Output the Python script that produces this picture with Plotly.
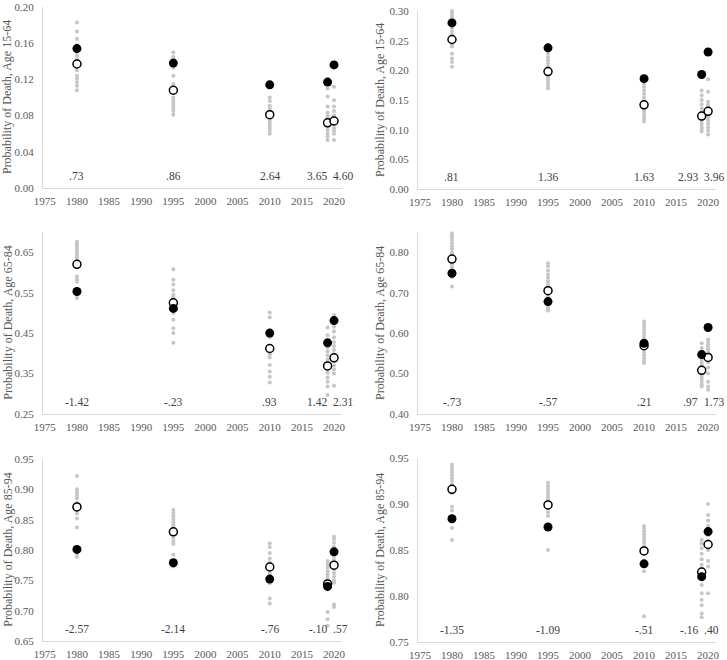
import plotly.graph_objects as go

years = [1980, 1995, 2010, 2019, 2020]

# top-left panel, age 15-64
p1_us = [0.154, 0.138, 0.114, 0.117, 0.136]
p1_avg = [0.137, 0.108, 0.081, 0.072, 0.074]
p1_peers = [
    [0.183, 0.173, 0.165, 0.158, 0.150, 0.146, 0.142, 0.138, 0.134, 0.130, 0.124, 0.121, 0.117, 0.113, 0.108],
    [0.150, 0.145, 0.140, 0.133, 0.124, 0.115, 0.110, 0.105, 0.100, 0.097, 0.094, 0.091, 0.088, 0.085, 0.081],
    [0.100, 0.096, 0.091, 0.088, 0.085, 0.083, 0.078, 0.075, 0.072, 0.069, 0.066, 0.063, 0.060],
    [0.110, 0.101, 0.090, 0.083, 0.080, 0.078, 0.075, 0.070, 0.068, 0.064, 0.060, 0.057, 0.053],
    [0.112, 0.097, 0.090, 0.085, 0.080, 0.078, 0.075, 0.070, 0.066, 0.063, 0.060, 0.053],
]
p1_labels = [".73", ".86", "2.64", "3.65", "4.60"]

# top-right panel, age 15-64
p2_us = [0.280, 0.238, 0.186, 0.193, 0.231]
p2_avg = [0.252, 0.198, 0.142, 0.123, 0.131]
p2_peers = [
    [0.300, 0.297, 0.292, 0.288, 0.283, 0.277, 0.272, 0.266, 0.260, 0.255, 0.250, 0.245, 0.240, 0.228, 0.220, 0.214, 0.206],
    [0.228, 0.222, 0.217, 0.212, 0.206, 0.200, 0.195, 0.190, 0.186, 0.182, 0.178, 0.174, 0.170],
    [0.178, 0.172, 0.166, 0.160, 0.154, 0.148, 0.142, 0.137, 0.132, 0.127, 0.122, 0.118, 0.114],
    [0.166, 0.158, 0.150, 0.143, 0.136, 0.130, 0.126, 0.120, 0.115, 0.110, 0.105, 0.101, 0.097],
    [0.185, 0.164, 0.147, 0.142, 0.137, 0.131, 0.126, 0.121, 0.116, 0.110, 0.104, 0.098, 0.092],
]
p2_labels = [".81", "1.36", "1.63", "2.93", "3.96"]

# middle-left panel, age 65-84
p3_us = [0.553, 0.511, 0.450, 0.426, 0.481]
p3_avg = [0.620, 0.525, 0.412, 0.369, 0.389]
p3_peers = [
    [0.676, 0.672, 0.667, 0.663, 0.658, 0.653, 0.648, 0.643, 0.638, 0.633, 0.590, 0.583, 0.577, 0.545, 0.537],
    [0.608, 0.582, 0.570, 0.556, 0.545, 0.540, 0.535, 0.520, 0.500, 0.483, 0.462, 0.450, 0.426],
    [0.501, 0.489, 0.440, 0.405, 0.398, 0.390, 0.371, 0.355, 0.342, 0.328],
    [0.464, 0.445, 0.415, 0.405, 0.395, 0.385, 0.378, 0.360, 0.352, 0.340, 0.330, 0.318, 0.297],
    [0.495, 0.466, 0.454, 0.440, 0.428, 0.418, 0.408, 0.398, 0.380, 0.370, 0.360, 0.350, 0.320],
]
p3_labels = ["-1.42", "-.23", ".93", "1.42", "2.31"]

# middle-right panel, age 65-84
p4_us = [0.748, 0.678, 0.575, 0.547, 0.614]
p4_avg = [0.783, 0.705, 0.569, 0.508, 0.540]
p4_peers = [
    [0.847, 0.842, 0.837, 0.830, 0.822, 0.815, 0.808, 0.800, 0.793, 0.770, 0.762, 0.755, 0.738, 0.715],
    [0.773, 0.765, 0.755, 0.745, 0.737, 0.728, 0.720, 0.712, 0.695, 0.688, 0.670, 0.665, 0.660, 0.656],
    [0.629, 0.622, 0.615, 0.608, 0.600, 0.593, 0.585, 0.560, 0.553, 0.545, 0.538, 0.530, 0.526],
    [0.575, 0.563, 0.535, 0.527, 0.520, 0.500, 0.493, 0.487, 0.480, 0.473, 0.468],
    [0.584, 0.578, 0.572, 0.566, 0.560, 0.553, 0.546, 0.528, 0.515, 0.500, 0.480, 0.468, 0.460],
]
p4_labels = ["-.73", "-.57", ".21", ".97", "1.73"]

# bottom-left panel, age 85-94
p5_us = [0.801, 0.779, 0.752, 0.740, 0.797]
p5_avg = [0.871, 0.830, 0.772, 0.744, 0.775]
p5_peers = [
    [0.922, 0.900, 0.895, 0.890, 0.885, 0.878, 0.866, 0.860, 0.852, 0.837, 0.794, 0.789],
    [0.866, 0.861, 0.856, 0.851, 0.846, 0.841, 0.836, 0.825, 0.820, 0.815, 0.810, 0.792, 0.773],
    [0.811, 0.805, 0.795, 0.786, 0.780, 0.762, 0.745, 0.720, 0.712],
    [0.782, 0.777, 0.771, 0.765, 0.760, 0.755, 0.750, 0.735, 0.698, 0.686, 0.675],
    [0.822, 0.818, 0.812, 0.805, 0.790, 0.784, 0.768, 0.762, 0.756, 0.750, 0.746, 0.710, 0.706],
]
p5_labels = ["-2.57", "-2.14", "-.76", "-.10", ".57"]

# bottom-right panel, age 85-94
p6_us = [0.884, 0.875, 0.835, 0.821, 0.870]
p6_avg = [0.916, 0.899, 0.849, 0.826, 0.856]
p6_peers = [
    [0.943, 0.940, 0.937, 0.934, 0.931, 0.928, 0.925, 0.921, 0.912, 0.897, 0.893, 0.874, 0.861],
    [0.923, 0.920, 0.917, 0.914, 0.911, 0.908, 0.905, 0.902, 0.895, 0.891, 0.887, 0.850],
    [0.876, 0.873, 0.870, 0.867, 0.864, 0.861, 0.858, 0.854, 0.827, 0.778],
    [0.861, 0.857, 0.852, 0.846, 0.840, 0.834, 0.830, 0.812, 0.803, 0.796, 0.790, 0.781, 0.777],
    [0.900, 0.888, 0.882, 0.876, 0.866, 0.860, 0.850, 0.838, 0.832, 0.803],
]
p6_labels = ["-1.35", "-1.09", "-.51", "-.16", ".40"]

FONT = "Liberation Serif"
TICK_COLOR = "#595959"
AXIS_COLOR = "#D9D9D9"

panels = [
    dict(us=p1_us, avg=p1_avg, peers=p1_peers, labels=p1_labels, title="Probability of Death, Age 15-64",
         yrange=[0, 0.20], tick0=0, dtick=0.04, xdom=[0.059, 0.4705], ydom=[0.7152, 0.9894], tx=0.0105),
    dict(us=p2_us, avg=p2_avg, peers=p2_peers, labels=p2_labels, title="Probability of Death, Age 15-64",
         yrange=[0, 0.30], tick0=0, dtick=0.05, xdom=[0.575, 0.985], ydom=[0.7136, 0.9833], tx=0.5227),
    dict(us=p3_us, avg=p3_avg, peers=p3_peers, labels=p3_labels, title="Probability of Death, Age 65-84",
         yrange=[0.25, 0.70], tick0=0.25, dtick=0.1, xdom=[0.059, 0.4705], ydom=[0.3727, 0.6485], tx=0.0105),
    dict(us=p4_us, avg=p4_avg, peers=p4_peers, labels=p4_labels, title="Probability of Death, Age 65-84",
         yrange=[0.40, 0.85], tick0=0.40, dtick=0.1, xdom=[0.575, 0.985], ydom=[0.3727, 0.6485], tx=0.5227),
    dict(us=p5_us, avg=p5_avg, peers=p5_peers, labels=p5_labels, title="Probability of Death, Age 85-94",
         yrange=[0.65, 0.95], tick0=0.65, dtick=0.05, xdom=[0.059, 0.4705], ydom=[0.0288, 0.3045], tx=0.0105),
    dict(us=p6_us, avg=p6_avg, peers=p6_peers, labels=p6_labels, title="Probability of Death, Age 85-94",
         yrange=[0.75, 0.95], tick0=0.75, dtick=0.05, xdom=[0.575, 0.985], ydom=[0.0273, 0.306], tx=0.5227),
]

fig = go.Figure()
annotations = []

for i, p in enumerate(panels, start=1):
    xa = "x" if i == 1 else f"x{i}"
    ya = "y" if i == 1 else f"y{i}"

    # grey dots for the peer countries
    gx, gy = [], []
    for yr, vals in zip(years, p["peers"]):
        gx += [yr] * len(vals)
        gy += vals
    fig.add_trace(go.Scatter(x=gx, y=gy, mode="markers", xaxis=xa, yaxis=ya,
                             marker=dict(size=4, color="#C6C6C6"), cliponaxis=False,
                             showlegend=False, hoverinfo="skip"))
    # peer average (open circles)
    fig.add_trace(go.Scatter(x=years, y=p["avg"], mode="markers", xaxis=xa, yaxis=ya,
                             marker=dict(size=8, color="white", line=dict(color="black", width=1.5)),
                             cliponaxis=False, showlegend=False))
    # US (filled circles)
    fig.add_trace(go.Scatter(x=years, y=p["us"], mode="markers", xaxis=xa, yaxis=ya,
                             marker=dict(size=9, color="black"), cliponaxis=False, showlegend=False))

    axis_common = dict(showline=True, linecolor=AXIS_COLOR, linewidth=1, showgrid=False,
                       zeroline=False, ticks="", automargin=False,
                       tickfont=dict(family=FONT, size=11, color=TICK_COLOR))
    fig.update_layout(**{
        ("xaxis" if i == 1 else f"xaxis{i}"): dict(
            axis_common, domain=p["xdom"], range=[1974.7, 2021.25], tick0=1975, dtick=5,
            anchor=ya, ticklabelstandoff=3),
        ("yaxis" if i == 1 else f"yaxis{i}"): dict(
            axis_common, domain=p["ydom"], range=p["yrange"], tick0=p["tick0"], dtick=p["dtick"],
            tickformat=".2f", anchor=xa, ticklabelstandoff=6),
    })

    # numeric labels along the bottom of each panel
    split = 2019.3 if i % 2 == 1 else 2018.9
    for yr, lab in zip(years, p["labels"]):
        if yr == 2019:
            xpos, anchor, shift = split, "right", -1
        elif yr == 2020:
            xpos, anchor, shift = split, "left", 1
        else:
            xpos, anchor, shift = yr, "center", 0
        annotations.append(dict(x=xpos, y=0.065, xref=xa, yref=f"{ya} domain", text=lab,
                                showarrow=False, xanchor=anchor, yanchor="middle", xshift=shift,
                                font=dict(family=FONT, size=11.5, color="#404040")))

    # y-axis title
    annotations.append(dict(x=p["tx"], y=(p["ydom"][0] + p["ydom"][1]) / 2, xref="paper", yref="paper",
                            text=p["title"], textangle=-90, showarrow=False,
                            xanchor="center", yanchor="middle",
                            font=dict(family=FONT, size=12, color=TICK_COLOR)))

fig.update_layout(
    width=727, height=660,
    margin=dict(l=0, r=0, t=0, b=0),
    plot_bgcolor="white", paper_bgcolor="white",
    showlegend=False,
    annotations=annotations,
)

fig.write_html("out.html", config={"displayModeBar": False},
               post_script="document.body.style.margin='0';")
